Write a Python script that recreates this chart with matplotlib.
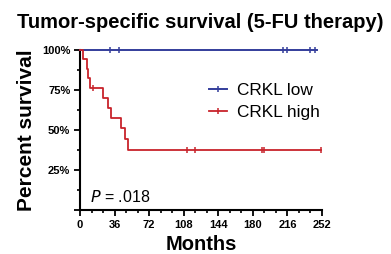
import matplotlib
matplotlib.use("Agg")
import matplotlib.pyplot as plt
from matplotlib.ticker import MultipleLocator, FuncFormatter

plt.rcParams['font.family'] = ['Liberation Sans', 'DejaVu Sans']

# Kaplan-Meier steps (months, percent)
low_times = [0, 247]
low_surv = [100, 100]
low_censor = [31, 40.5, 211, 216, 240, 245]

high_times = [0, 3.5, 7, 8, 10.5, 24, 29.5, 32, 42.5, 47, 50.5, 251]
high_surv = [100, 94.1, 88.2, 82.4, 76.5, 70.1, 63.7, 57.4, 51.0, 44.6, 37.5, 37.5]
high_censor = [14, 111.5, 120, 189, 191.7, 251]

labels = ['CRKL low', 'CRKL high']
blue = '#333d9b'
red = '#c8232b'


def surv_at(times, surv, t):
    val = surv[0]
    for ti, si in zip(times, surv):
        if ti <= t:
            val = si
    return val


fig = plt.figure(figsize=(3.91, 2.54), dpi=100)
ax = fig.add_axes([80/391, 1-210/254, 242/391, 160/254])

ax.step(low_times, low_surv, where='post', color=blue, lw=1.4, clip_on=False, zorder=3)
ax.step(high_times, high_surv, where='post', color=red, lw=1.3, clip_on=False, zorder=3)
ax.plot(low_censor, [surv_at(low_times, low_surv, t) for t in low_censor], ls='none',
        marker='|', ms=5, mew=1.1, color=blue, clip_on=False, zorder=3)
ax.plot(high_censor, [surv_at(high_times, high_surv, t) for t in high_censor], ls='none',
        marker='|', ms=5, mew=1.1, color=red, clip_on=False, zorder=3)

# legend handles
h1, = ax.plot([], [], color=blue, lw=1.4, marker='|', ms=5, mew=1.1)
h2, = ax.plot([], [], color=red, lw=1.3, marker='|', ms=5, mew=1.1)
ax.legend([h1, h2], labels, loc='upper left', bbox_to_anchor=(0.535, 0.795), frameon=False,
          fontsize=12.4, handlelength=1.0, handletextpad=0.6, labelspacing=0.43, borderpad=0,
          borderaxespad=0, numpoints=1)

ax.set_xlim(0, 252)
ax.set_ylim(0, 100)
ax.xaxis.set_major_locator(MultipleLocator(36))
ax.xaxis.set_minor_locator(MultipleLocator(12))
ax.yaxis.set_major_locator(MultipleLocator(25))
ax.yaxis.set_minor_locator(MultipleLocator(12.5))
ax.yaxis.set_major_formatter(FuncFormatter(lambda v, p: '' if v == 0 else '%d%%' % v))

for s in ['top', 'right']:
    ax.spines[s].set_visible(False)
for s in ['left', 'bottom']:
    ax.spines[s].set_linewidth(1.5)
ax.tick_params(which='major', direction='out', length=4, width=1.3, labelsize=8, pad=3)
ax.tick_params(which='minor', direction='out', length=2.5, width=1.2)
for lab in ax.get_xticklabels() + ax.get_yticklabels():
    lab.set_fontweight('bold')

ax.set_xlabel('Months', fontsize=14.5, fontweight='bold', labelpad=3.5)
ax.set_ylabel('Percent survival', fontsize=15, fontweight='bold', labelpad=4)
ax.text(0.04, 0.08, r'$\it{P}$ = .018', transform=ax.transAxes, fontsize=11.5, va='center')
fig.text(0.511, 0.913, 'Tumor-specific survival (5-FU therapy)', fontsize=14.5,
         fontweight='bold', ha='center', va='center')

fig.savefig('out.png', dpi=100)
